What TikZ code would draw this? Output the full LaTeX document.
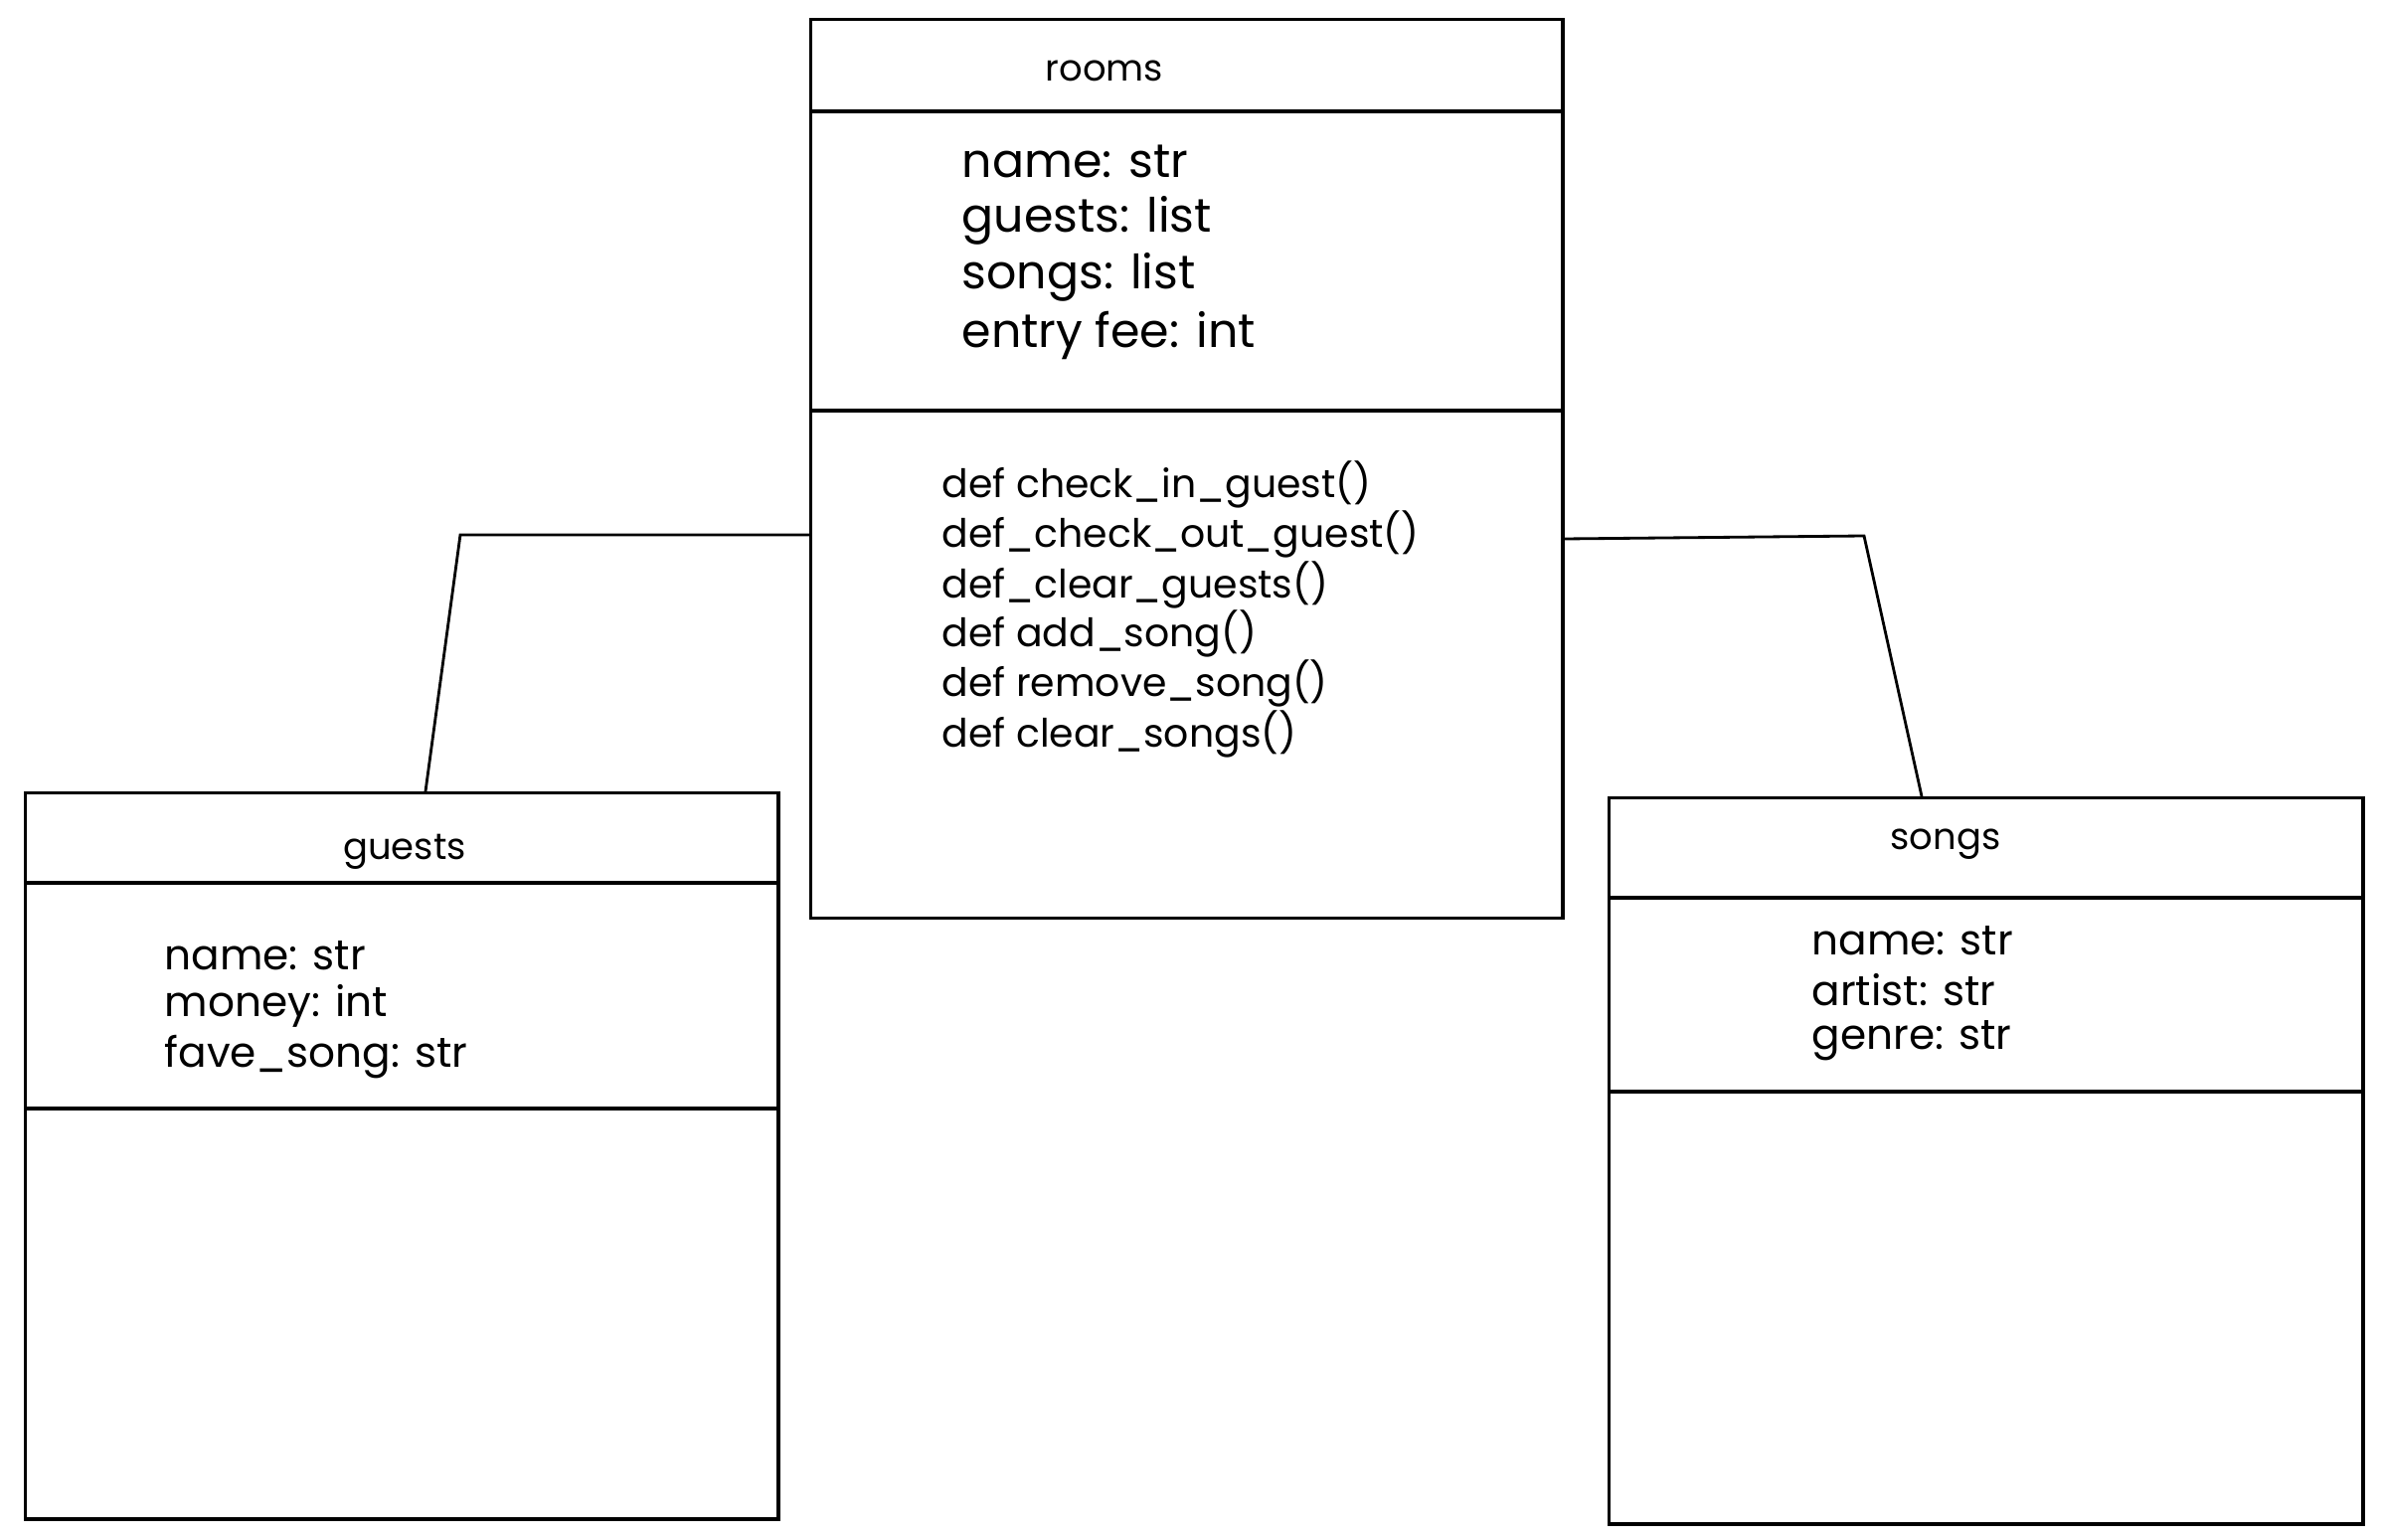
\documentclass[tikz,border=0pt]{standalone}
\usepackage{fontspec}
\setmainfont{Poppins}
\begin{document}
\begin{tikzpicture}[x=0.01cm,y=-0.01cm,
  cls/.style={draw=black, line width=0.9pt, inner sep=0pt, anchor=north west},
  sep/.style={line width=1.1pt},
  conn/.style={line width=0.8pt},
  ttl/.style={font=\fontsize{10.5pt}{13pt}\selectfont, inner sep=0pt},
  attr/.style={font=\fontsize{13.5pt}{15pt}\selectfont, anchor=west, inner sep=0pt},
  meth/.style={font=\fontsize{11.2pt}{13pt}\selectfont, anchor=west, inner sep=0pt},
  sattr/.style={font=\fontsize{12pt}{14pt}\selectfont, anchor=west, inner sep=0pt}]
\useasboundingbox[fill=white] (0,0) rectangle (2396,1549);

% rooms
\node[cls, minimum width=7.56cm, minimum height=9.03cm] (rooms) at (814,18) {};
\draw[sep] (rooms.west |- 0,112) -- (rooms.east |- 0,112);
\draw[sep] (rooms.west |- 0,413) -- (rooms.east |- 0,413);
\node[ttl] (roomsT) at (1111,71) {rooms};
\node[attr] (r1) at (967,162) {name: str};
\node[attr] (r2) at (967,222) {guests: list};
\node[attr] (r3) at (967,279) {songs: list};
\node[attr] (r4) at (967,337) {entry fee: int};
\node[meth] (m1) at (947,487) {def check\_in\_guest()};
\node[meth] (m2) at (947,537) {def\_check\_out\_guest()};
\node[meth] (m3) at (947,588) {def\_clear\_guests()};
\node[meth] (m4) at (947,637) {def add\_song()};
\node[meth] (m5) at (947,687) {def remove\_song()};
\node[meth] (m6) at (947,738) {def clear\_songs()};

% guests
\node[cls, minimum width=7.57cm, minimum height=7.30cm] (guests) at (24,796) {};
\draw[sep] (guests.west |- 0,888) -- (guests.east |- 0,888);
\draw[sep] (guests.west |- 0,1115) -- (guests.east |- 0,1115);
\node[ttl] (guestsT) at (407,857) {guests};
\node[sattr] (g1) at (165,961) {name: str};
\node[sattr] (g2) at (165,1012) {money: int};
\node[sattr] (g3) at (165,1063) {fave\_song: str};

% songs
\node[cls, minimum width=7.58cm, minimum height=7.30cm] (songs) at (1617,801) {};
\draw[sep] (songs.west |- 0,903) -- (songs.east |- 0,903);
\draw[sep] (songs.west |- 0,1098) -- (songs.east |- 0,1098);
\node[ttl] (songsT) at (1957,849) {songs};
\node[sattr] (s1) at (1822,946) {name: str};
\node[sattr] (s2) at (1822,996) {artist: str};
\node[sattr] (s3) at (1822,1047) {genre: str};

% connectors
\coordinate (lj) at (463,538);
\coordinate (lt) at (428,796);
\coordinate (rj) at (1875,539);
\coordinate (rt) at (1933,801);
\draw[conn] (rooms.west |- lj) -- (lj) -- (guests.north -| lt);
\draw[conn] (rooms.east |- 0,542) -- (rj) -- (songs.north -| rt);
\end{tikzpicture}
\end{document}
